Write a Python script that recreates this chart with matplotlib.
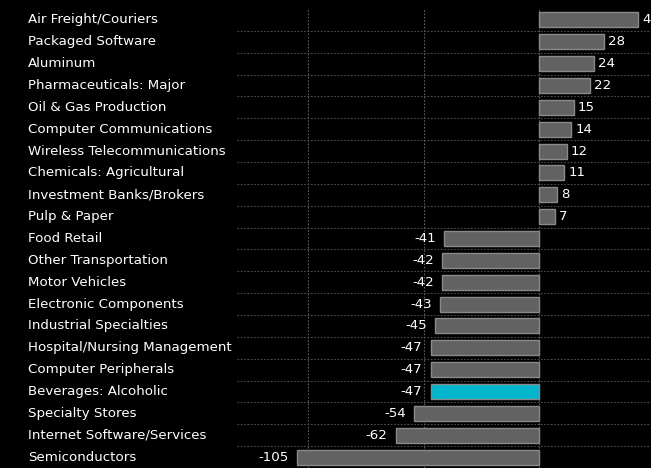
import matplotlib
matplotlib.use("Agg")
import matplotlib.pyplot as plt
import matplotlib.transforms as mtrans
import numpy as np

industries = ["Air Freight/Couriers", "Packaged Software", "Aluminum",
              "Pharmaceuticals: Major", "Oil & Gas Production",
              "Computer Communications", "Wireless Telecommunications",
              "Chemicals: Agricultural", "Investment Banks/Brokers",
              "Pulp & Paper", "Food Retail", "Other Transportation",
              "Motor Vehicles", "Electronic Components", "Industrial Specialties",
              "Hospital/Nursing Management", "Computer Peripherals",
              "Beverages: Alcoholic", "Specialty Stores",
              "Internet Software/Services", "Semiconductors"]
values = [43, 28, 24, 22, 15, 14, 12, 11, 8, 7, -41, -42, -42, -43, -45,
          -47, -47, -47, -54, -62, -105]
highlight = "Beverages: Alcoholic"

fig = plt.figure(figsize=(6.51, 4.68), dpi=100, facecolor="black")
ax = fig.add_axes([237/651, 0, 1 - 237/651, (468 - 9)/468])
ax.set_facecolor("black")

n = len(values)
y = np.arange(n)
colors = ["#00b5cc" if c == highlight else "#626262" for c in industries]
ax.barh(y, values, height=0.68, color=colors, edgecolor="#8a8a8a", linewidth=1, zorder=3)

ax.set_xlim(-131, 48.6)
ax.set_ylim(n - 0.5, -0.5)

# grid
for xv in [-100, -50, 0]:
    ax.axvline(xv, color="#606060", lw=0.8, ls=(0, (1.5, 1.5)), zorder=1)
for yb in np.arange(0.5, n, 1):
    ax.axhline(yb, color="#4e4e4e", lw=0.8, ls=(0, (1.5, 1.5)), zorder=1)

for spine in ax.spines.values():
    spine.set_visible(False)
ax.set_xticks([])
ax.set_yticks([])

# category labels on the far left
tr = mtrans.blended_transform_factory(fig.transFigure, ax.transData)
for yi, name in zip(y, industries):
    ax.text(28/651, yi, name, transform=tr, color="white", fontsize=9.6,
            ha="left", va="center", clip_on=False)

# value labels
for yi, v in zip(y, values):
    if v >= 0:
        ax.annotate(str(v), (v, yi), xytext=(3, 0), textcoords="offset points",
                    color="white", fontsize=9.6, ha="left", va="center",
                    annotation_clip=False)
    else:
        ax.annotate(str(v), (v, yi), xytext=(-6, 0), textcoords="offset points",
                    color="white", fontsize=9.6, ha="right", va="center",
                    annotation_clip=False)

fig.savefig("out.png", dpi=100, facecolor="black")
